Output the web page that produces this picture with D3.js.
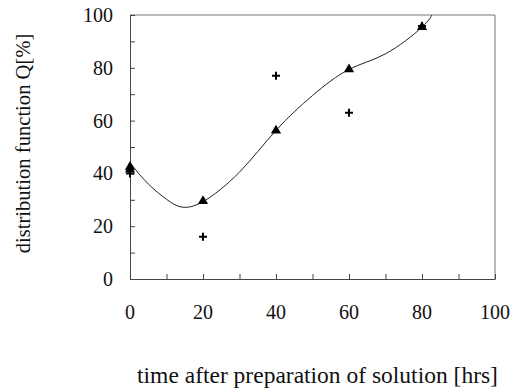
<!DOCTYPE html>
<html><head><meta charset="utf-8">
<script src="https://cdn.jsdelivr.net/npm/d3@7"></script>
<style>body{margin:0;background:#fff}svg{display:block}text{font-family:"Liberation Serif","Times New Roman",serif;fill:#111}</style>
</head><body><div id="c"></div>
<script>
// data
const hours = [0, 20, 40, 60, 80];
const triangleQ = [41.5, 29.5, 56.2, 79.4, 95.4];
const plusQ = [40, 16, 77, 63, 95.8];
const extraTriangle = [[0, 42.5]];
const curveHours = [0, 5, 10, 14, 20, 30, 40, 50, 60, 70, 80, 83];
const curveQ = [44, 36, 30.2, 27.3, 29.3, 40.5, 56.3, 69.5, 79.4, 85.3, 95.4, 101];
const xTicks = [0, 20, 40, 60, 80, 100];
const yTicks = [0, 20, 40, 60, 80, 100];
const xLabel = "time after preparation of solution [hrs]";
const yLabel = "distribution function Q[%]";

const W = 513, H = 389;
const m = {l: 130, r: 495, t: 15, b: 279};
const svg = d3.select("#c").append("svg").attr("width", W).attr("height", H);
const x = d3.scaleLinear().domain([0, 100]).range([m.l, m.r]);
const y = d3.scaleLinear().domain([0, 100]).range([m.b, m.t]);

// frame top/right
svg.append("path").attr("d", `M${m.l},${m.t}H${m.r}V${m.b}`).attr("fill", "none").attr("stroke", "#777").attr("stroke-width", 1);

const xAxis = svg.append("g").attr("transform", `translate(0,${m.b})`)
  .call(d3.axisBottom(x).tickValues(d3.range(0, 101, 10)).tickSize(-5).tickSizeOuter(0).tickFormat(""));
const yAxis = svg.append("g").attr("transform", `translate(${m.l},0)`)
  .call(d3.axisLeft(y).tickValues(d3.range(0, 101, 10)).tickSize(-5).tickSizeOuter(0).tickFormat(""));
[xAxis, yAxis].forEach(g => { g.selectAll("path,line").attr("stroke", "#444"); });

// tick labels
svg.append("g").selectAll("text").data(xTicks).join("text")
  .attr("x", d => x(d)).attr("y", 319).attr("text-anchor", "middle").attr("font-size", 20).text(d => d);
svg.append("g").selectAll("text").data(yTicks).join("text")
  .attr("x", 113).attr("y", d => y(d) + 7).attr("text-anchor", "end").attr("font-size", 20).text(d => d);

// labels
svg.append("text").attr("x", 317.5).attr("y", 383).attr("text-anchor", "middle").attr("font-size", 23.5).text(xLabel);
svg.append("text").attr("transform", "translate(30,143.5) rotate(-90)").attr("text-anchor", "middle").attr("font-size", 20.6).text(yLabel);

// curve
svg.append("clipPath").attr("id", "clip").append("rect").attr("x", m.l).attr("y", m.t).attr("width", m.r - m.l).attr("height", m.b - m.t);
const line = d3.line().x(d => x(d[0])).y(d => y(d[1])).curve(d3.curveNatural);
svg.append("path").attr("clip-path", "url(#clip)")
  .attr("d", line(curveHours.map((h, i) => [h, curveQ[i]])))
  .attr("fill", "none").attr("stroke", "#222").attr("stroke-width", 1);

// markers
const tri = d3.symbol().type(d3.symbolTriangle).size(45);
const triData = hours.map((h, i) => [h, triangleQ[i]]).concat(extraTriangle);
svg.append("g").selectAll("path").data(triData).join("path")
  .attr("transform", d => `translate(${x(d[0])},${y(d[1])})`).attr("d", tri).attr("fill", "#000");
svg.append("g").selectAll("path").data(hours.map((h, i) => [h, plusQ[i]])).join("path")
  .attr("transform", d => `translate(${x(d[0])},${y(d[1])})`)
  .attr("d", "M-4,0H4M0,-4V4").attr("stroke", "#000").attr("stroke-width", 2).attr("fill", "none");
</script></body></html>
